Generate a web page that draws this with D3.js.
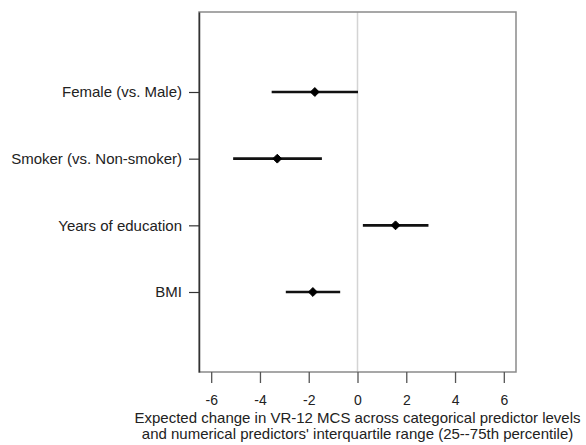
<!DOCTYPE html>
<html>
<head>
<meta charset="utf-8">
<script src="https://cdn.jsdelivr.net/npm/d3@7"></script>
<style>
  body { margin: 0; background: #fff; }
  text { font-family: "Liberation Sans", Arial, sans-serif; fill: #222; }
</style>
</head>
<body>
<svg width="586" height="445"></svg>
<script>
var predictors = ["Female (vs. Male)", "Smoker (vs. Non-smoker)", "Years of education", "BMI"];
var estimates = [-1.75, -3.29, 1.56, -1.83];
var lower = [-3.52, -5.10, 0.22, -2.94];
var upper = [0.02, -1.46, 2.91, -0.71];
var xTicks = [-6, -4, -2, 0, 2, 4, 6];
var xTitle = ["Expected change in VR-12 MCS across categorical predictor levels",
              "and numerical predictors' interquartile range (25--75th percentile)"];

var svg = d3.select("svg"),
    margin = {top: 12, right: 70, bottom: 73, left: 199},
    width = +svg.attr("width") - margin.left - margin.right,
    height = +svg.attr("height") - margin.top - margin.bottom,
    g = svg.append("g").attr("transform", "translate(" + margin.left + "," + margin.top + ")");

var data = predictors.map(function(p, i) {
  return {name: p, pos: i + 1, est: estimates[i], lo: lower[i], hi: upper[i]};
});

var x = d3.scaleLinear().domain([-6.5, 6.5]).range([0, width]);
var y = d3.scaleLinear().domain([-0.2, 5.2]).range([0, height]);

// zero reference line
g.append("line")
  .attr("x1", x(0)).attr("x2", x(0))
  .attr("y1", 0).attr("y2", height)
  .attr("stroke", "#d4d4d4")
  .attr("stroke-width", 1.5);

// box
g.append("rect")
  .attr("x", 0).attr("y", 0)
  .attr("width", width).attr("height", height)
  .attr("fill", "none")
  .attr("stroke", "#8a8a8a")
  .attr("stroke-width", 1.5);

// bottom axis
var xAxis = g.append("g")
  .attr("transform", "translate(0," + height + ")")
  .call(d3.axisBottom(x).tickValues(xTicks).tickSize(11).tickPadding(12)
    .tickFormat(function(d) { return String(d); }));
xAxis.select(".domain").remove();
xAxis.selectAll(".tick line").attr("stroke", "#555").attr("stroke-width", 1.3);
xAxis.selectAll(".tick text")
  .attr("font-size", 14)
  .attr("font-family", "Liberation Sans, Arial, sans-serif")
  .attr("fill", "#222");

// left axis
var yAxis = g.append("g")
  .call(d3.axisLeft(y).tickValues(data.map(function(d) { return d.pos; }))
    .tickFormat(function(d) { return predictors[d - 1]; })
    .tickSize(10).tickSizeOuter(0).tickPadding(7));
yAxis.select(".domain").attr("stroke", "#333").attr("stroke-width", 1.5);
yAxis.selectAll(".tick line").attr("stroke", "#333").attr("stroke-width", 1.2);
yAxis.selectAll(".tick text")
  .attr("font-size", 15)
  .attr("font-family", "Liberation Sans, Arial, sans-serif")
  .attr("fill", "#222");

// intervals
g.selectAll(".ci")
  .data(data)
  .enter().append("line")
  .attr("class", "ci")
  .attr("x1", function(d) { return x(d.lo); })
  .attr("x2", function(d) { return x(d.hi); })
  .attr("y1", function(d) { return y(d.pos); })
  .attr("y2", function(d) { return y(d.pos); })
  .attr("stroke", "#111")
  .attr("stroke-width", 2.6);

// point estimates
g.selectAll(".pt")
  .data(data)
  .enter().append("path")
  .attr("class", "pt")
  .attr("d", d3.symbol().type(d3.symbolDiamond2).size(50))
  .attr("transform", function(d) { return "translate(" + x(d.est) + "," + y(d.pos) + ")"; })
  .attr("fill", "#000")
  .attr("stroke", "#000")
  .attr("stroke-width", 1)
  .attr("stroke-linejoin", "round");

// x title
g.append("g")
  .selectAll("text")
  .data(xTitle)
  .enter().append("text")
  .attr("x", width / 2)
  .attr("y", function(d, i) { return height + 51 + i * 16; })
  .attr("text-anchor", "middle")
  .attr("font-size", 15)
  .text(function(d) { return d; });
</script>
</body>
</html>
